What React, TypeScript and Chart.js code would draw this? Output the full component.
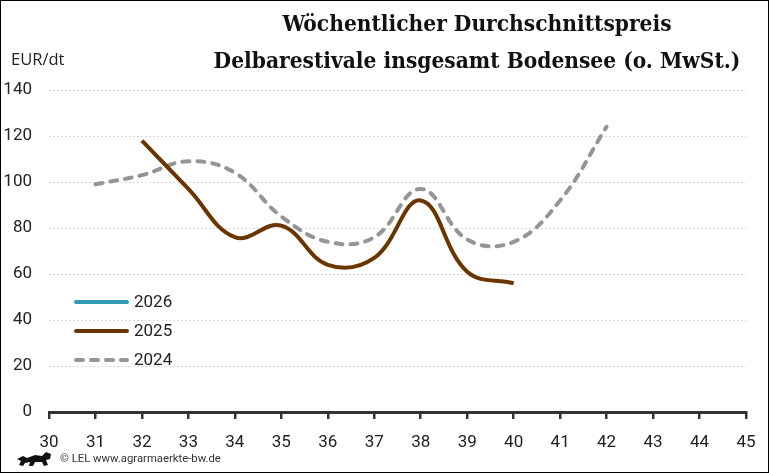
import { useEffect, useRef } from "react"
import { Chart, registerables } from "chart.js"

Chart.register(...registerables)

// Kalenderwochen und Preise (EUR/dt)
const weeks2026: number[] = []
const values2026: number[] = []
const weeks2025 = [32, 33, 34, 35, 36, 37, 38, 39, 40]
const values2025 = [118, 97, 76, 81, 64, 67, 92, 61, 56]
const weeks2024 = [31, 32, 33, 34, 35, 36, 37, 38, 39, 40, 41, 42]
const values2024 = [99, 103, 109, 104, 85, 74, 76, 97, 75, 74, 92, 124]

const seriesLabels = ["2026", "2025", "2024"]

const tickFont = { family: "Roboto, 'Noto Sans', sans-serif", size: 17 }

// Legende innerhalb der Zeichenfläche, unten links
const innerLegend = {
    id: "innerLegend",
    afterDatasetsDraw(chart: Chart) {
        const { ctx, chartArea } = chart
        const x0 = chartArea.left + 25
        const len = 55
        ctx.save()
        chart.data.datasets.forEach((ds: any, i: number) => {
            const y = 301 + i * 29
            ctx.beginPath()
            ctx.strokeStyle = ds.borderColor
            ctx.lineWidth = ds.borderWidth
            ctx.lineCap = "round"
            ctx.setLineDash(ds.borderDash || [])
            ctx.moveTo(x0 + 2, y)
            ctx.lineTo(x0 + len - 2, y)
            ctx.stroke()
            ctx.setLineDash([])
            ctx.fillStyle = "#222"
            ctx.font = `${tickFont.size}px ${tickFont.family}`
            ctx.textBaseline = "middle"
            ctx.fillText(ds.label, x0 + len + 5, y + 1)
        })
        ctx.restore()
    },
}

function PriceChart() {
    const chartRef = useRef<HTMLCanvasElement | null>(null)
    const chartInstance = useRef<Chart | null>(null)

    useEffect(() => {
        if (!chartRef.current) return
        if (chartInstance.current) chartInstance.current.destroy()

        const ctx = chartRef.current.getContext("2d")
        if (!ctx) return

        chartInstance.current = new Chart(ctx, {
            type: "line",
            data: {
                datasets: [
                    {
                        label: seriesLabels[0],
                        data: weeks2026.map((w, i) => ({ x: w, y: values2026[i] })),
                        borderColor: "#2e9baf",
                        borderWidth: 4,
                        pointRadius: 0,
                        tension: 0.4,
                    },
                    {
                        label: seriesLabels[1],
                        data: weeks2025.map((w, i) => ({ x: w, y: values2025[i] })),
                        borderColor: "#6b3500",
                        borderWidth: 4,
                        pointRadius: 0,
                        tension: 0.4,
                    },
                    {
                        label: seriesLabels[2],
                        data: weeks2024.map((w, i) => ({ x: w, y: values2024[i] })),
                        borderColor: "#959595",
                        borderWidth: 4,
                        borderDash: [7, 8],
                        borderCapStyle: "round",
                        pointRadius: 0,
                        tension: 0.4,
                    },
                ],
            },
            options: {
                responsive: false,
                animation: false,
                layout: { padding: { top: 89, right: 24, left: 0, bottom: 0 } },
                plugins: {
                    legend: { display: false },
                    tooltip: { enabled: false },
                },
                scales: {
                    x: {
                        type: "linear",
                        min: 30,
                        max: 45,
                        afterFit: (scale: any) => {
                            scale.height = 62
                        },
                        ticks: { stepSize: 1, color: "#222", font: tickFont, padding: 14 },
                        grid: {
                            drawOnChartArea: false,
                            drawTicks: true,
                            tickLength: 7,
                            color: "#333",
                            lineWidth: 2.5,
                        },
                        border: { display: true, color: "#333", width: 3 },
                    },
                    y: {
                        min: 0,
                        max: 140,
                        afterFit: (scale: any) => {
                            scale.width = 48
                        },
                        ticks: { stepSize: 20, color: "#222", font: tickFont, padding: 17 },
                        grid: { color: "#d9d9d9", lineWidth: 1, drawTicks: false },
                        border: { display: false, dash: [2, 2] },
                    },
                },
            },
            plugins: [innerLegend],
        })

        return () => {
            if (chartInstance.current) {
                chartInstance.current.destroy()
                chartInstance.current = null
            }
        }
    }, [])

    return <canvas ref={chartRef} width={769} height={473} style={{ position: "absolute", left: 0, top: 0 }} />
}

export default function App() {
    useEffect(() => {
        document.body.style.margin = "0"
    }, [])

    return (
        <div
            style={{
                position: "relative",
                width: 769,
                height: 473,
                boxSizing: "border-box",
                border: "1px solid #000",
                background: "#fff",
                overflow: "hidden",
            }}
        >
            <PriceChart />
            <div
                style={{
                    position: "absolute",
                    left: 126,
                    width: 700,
                    top: 4,
                    textAlign: "center",
                    fontFamily: "'DejaVu Serif', serif",
                    fontStretch: "condensed",
                    fontWeight: "bold",
                    fontSize: 22.5,
                    lineHeight: "37px",
                    color: "#111",
                }}
            >
                Wöchentlicher Durchschnittspreis
                <br />
                Delbarestivale insgesamt Bodensee (o. MwSt.)
            </div>
            <div
                style={{
                    position: "absolute",
                    left: 10,
                    top: 46,
                    fontFamily: "'Open Sans', sans-serif",
                    fontSize: 16.5,
                    color: "#222",
                }}
            >
                EUR/dt
            </div>
            <svg
                width="38"
                height="18"
                viewBox="0 0 38 18"
                style={{ position: "absolute", left: 14, top: 449 }}
            >
                <path
                    d="M2 9 L8 6 L12 8 L20 5 L27 6 L31 2 L36 4 L35 9 L31 10 L33 15 L29 16 L27 12 L20 12 L18 16 L14 16 L15 12 L10 13 L8 16 L4 15 L6 11 Z"
                    fill="#111"
                />
            </svg>
            <div
                style={{
                    position: "absolute",
                    left: 59,
                    top: 451,
                    fontFamily: "Roboto, sans-serif",
                    fontSize: 11.3,
                    color: "#333",
                }}
            >
                © LEL www.agrarmaerkte-bw.de
            </div>
        </div>
    )
}
